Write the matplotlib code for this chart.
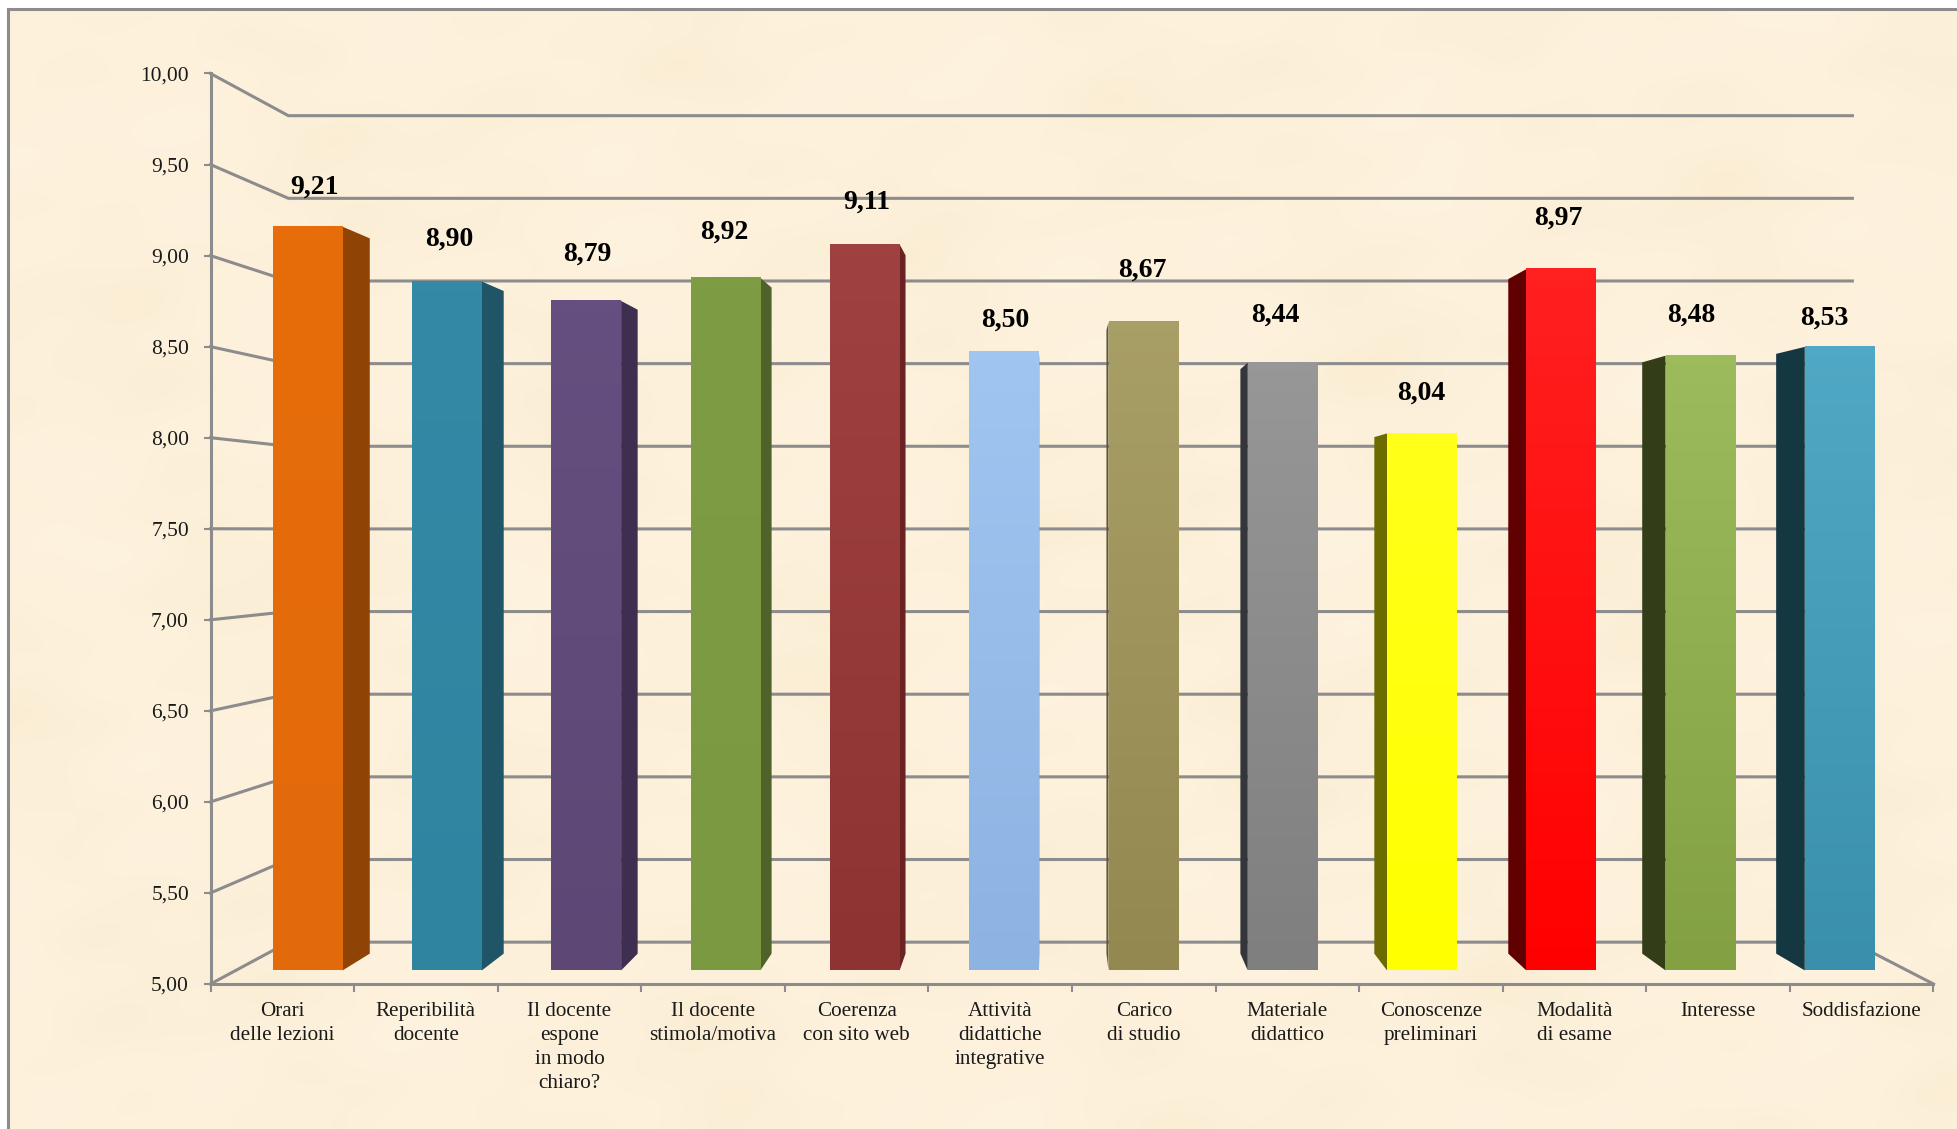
import numpy as np
import matplotlib
matplotlib.use("Agg")
import matplotlib.pyplot as plt
from matplotlib.colors import LinearSegmentedColormap

plt.rcParams['font.family'] = ['Liberation Serif', 'DejaVu Serif']

# data
categories = [
    "Orari\ndelle lezioni", "Reperibilità\ndocente", "Il docente\nespone\nin modo\nchiaro?",
    "Il docente\nstimola/motiva", "Coerenza\ncon sito web", "Attività\ndidattiche\nintegrative",
    "Carico\ndi studio", "Materiale\ndidattico", "Conoscenze\npreliminari",
    "Modalità\ndi esame", "Interesse", "Soddisfazione",
]
scores = [9.21, 8.90, 8.79, 8.92, 9.11, 8.50, 8.67, 8.44, 8.04, 8.97, 8.48, 8.53]
y_ticks = [5.0, 5.5, 6.0, 6.5, 7.0, 7.5, 8.0, 8.5, 9.0, 9.5, 10.0]

# bar colours: top of front face, bottom of front face, side face
top_colors = ["#E76D0B", "#3489A6", "#654F80", "#7E9C44", "#A04141", "#A0C5F1",
              "#A89F66", "#979797", "#FFFF1A", "#FF2020", "#9BBB5C", "#4FA8C5"]
bottom_colors = ["#E36A0A", "#2F84A0", "#5D4775", "#7A9940", "#8E3232", "#8CB3E2",
                 "#938850", "#7F7F7F", "#FFFF00", "#FF0000", "#83A142", "#3A90AC"]
side_colors = ["#8F4304", "#1F5566", "#3E2E50", "#4E6229", "#6B2222", "#7FA0CC",
               "#5F5730", "#33363A", "#6B6B00", "#600000", "#333D18", "#143742"]

# where the value labels sit relative to the bar tops, hand placed in the original
label_dx = [7, 2, 1, -1, 2, 1, -1, -7, -1, -3, -9, -15]
label_dy = [40, 42, 47, 46, 42, 32, 52, 48, 40, 51, 41, 29]

W, H = 1957, 1129
GRID = "#8C8C8C"

# fake 3d: everything is scaled towards one vanishing point
VX, VY = 5.877, 7.49
S_BAR_FRONT, S_BAR_BACK, S_WALL = 0.970, 0.933, 0.9077


def project(x, y, s):
    return VX + s * (x - VX), VY + s * (y - VY)


fig = plt.figure(figsize=(W / 100, H / 100), dpi=100, facecolor="white")

# parchment background in pixel coordinates
bg = fig.add_axes([0, 0, 1, 1])
bg.axis("off")
gx, gy = np.meshgrid(np.linspace(0, 1, 120), np.linspace(0, 1, 70))
mottle = (np.sin(23 * gx + 3 * gy) * np.sin(17 * gy - 5 * gx)
          + 0.7 * np.sin(41 * gx + 29 * gy + 1.3) * np.sin(37 * gy - 19 * gx)
          + 0.5 * np.sin(71 * gx - 13 * gy + 0.4) * np.sin(83 * gy + 31 * gx))
paper = LinearSegmentedColormap.from_list("paper", ["#FBEDD3", "#FDF1DC", "#FEF3DF"])
bg.imshow(mottle, cmap=paper, extent=(8, W, H, 9), aspect="auto", interpolation="bicubic")
bg.plot([8, 8, W], [H, 9, 9], color=GRID, lw=2.2, solid_joinstyle="miter")
bg.set_xlim(0, W)
bg.set_ylim(H, 0)

# main axes = front plane of the chart walls
ax = fig.add_axes([210.5 / W, 1 - 984 / H, 1723 / W, 910.5 / H])
ax.patch.set_alpha(0)
ax.set_autoscale_on(False)
ax.set_xlim(0, 12)
ax.set_ylim(5, 10)

# back wall and side wall grid lines
for v in y_ticks:
    x0, y0 = project(0, v, S_WALL)
    x1, y1 = project(12, v, S_WALL)
    ax.plot([0, x0, x1], [v, y0, y1], color=GRID, lw=2.2, clip_on=False, zorder=1,
            solid_joinstyle="round")
x1, y1 = project(12, 5, S_WALL)
ax.plot([x1, 12], [y1, 5], color=GRID, lw=2.2, clip_on=False, zorder=1)

# bars
BAR_START, BAR_STEP, BAR_W = 0.5168, 0.99985, 0.5
for i, score in enumerate(scores):
    cx = BAR_START + BAR_STEP * i
    left, right = cx - BAR_W / 2, cx + BAR_W / 2
    edge = right if right < VX else left

    ex, ey_top = project(edge, score, S_BAR_FRONT)
    _, ey_bot = project(edge, 5, S_BAR_FRONT)
    bx, by_top = project(edge, score, S_BAR_BACK)
    _, by_bot = project(edge, 5, S_BAR_BACK)
    ax.fill([ex, bx, bx, ex], [ey_top, by_top, by_bot, ey_bot], color=side_colors[i],
            lw=0, clip_on=False, zorder=3)

    fx0, fy_top = project(left, score, S_BAR_FRONT)
    fx1, fy_bot = project(right, 5, S_BAR_FRONT)
    cmap = LinearSegmentedColormap.from_list("bar%d" % i, [top_colors[i], bottom_colors[i]])
    ax.imshow(np.linspace(0, 1, 64).reshape(-1, 1), cmap=cmap, aspect="auto",
              extent=(fx0, fx1, fy_bot, fy_top), zorder=4, clip_on=False)

    ax.annotate(("%.2f" % score).replace(".", ","), xy=((fx0 + fx1) / 2, fy_top),
                xytext=(label_dx[i], label_dy[i]), textcoords="offset pixels",
                ha="center", va="center", fontsize=20, fontweight="bold",
                color="black", zorder=6, annotation_clip=False)

ax.set_xlim(0, 12)
ax.set_ylim(5, 10)

# axes
for name in ["top", "right"]:
    ax.spines[name].set_visible(False)
for name in ["left", "bottom"]:
    ax.spines[name].set_color(GRID)
    ax.spines[name].set_linewidth(2.2)
    ax.spines[name].set_zorder(2)

ax.set_yticks(y_ticks)
ax.set_yticklabels([("%.2f" % v).replace(".", ",") for v in y_ticks], fontsize=15.5, color="#1A1A1A")
ax.tick_params(axis="y", length=5, width=1.5, color=GRID, pad=10.5)

ax.set_xticks(np.arange(0, 13))
ax.set_xticklabels([])
ax.tick_params(axis="x", which="major", length=6, width=1.5, color=GRID)
ax.set_xticks(np.arange(12) + 0.5, minor=True)
ax.set_xticklabels(categories, minor=True, fontsize=15.2, color="#1A1A1A", linespacing=1.36)
ax.tick_params(axis="x", which="minor", length=0, pad=13)

fig.savefig("out.png", dpi=100, facecolor="white")
